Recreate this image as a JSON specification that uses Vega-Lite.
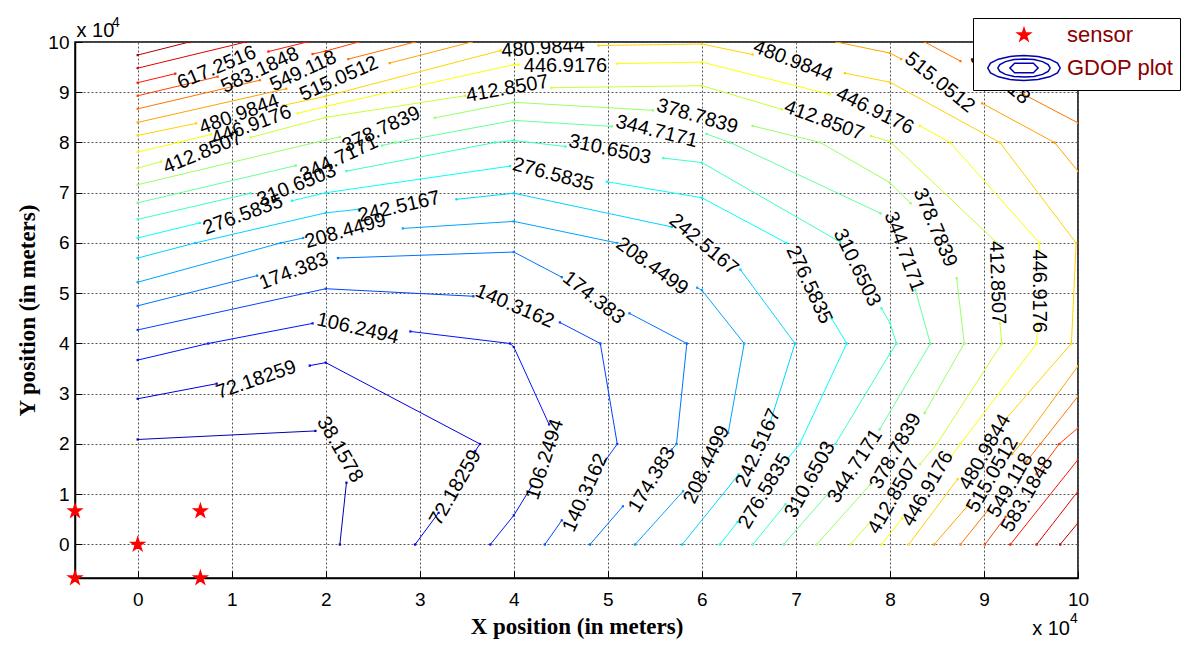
{
"$schema":"https://vega.github.io/schema/vega-lite/v6.json",
"width":1003,"height":536,
"autosize":{"type":"none"},
"padding":{"left":75,"top":42,"right":114,"bottom":72},
"background":"white",
"config":{"view":{"stroke":"black","strokeWidth":1.5},"font":"Liberation Sans"},
"datasets":{
"cl":[
{"k":"38.1578","s":"1a","o":0,"x":0,"y":2.09},{"k":"38.1578","s":"1a","o":1,"x":1.89,"y":2.26},
{"k":"38.1578","s":"1b","o":0,"x":2.22,"y":1.23},{"k":"38.1578","s":"1b","o":1,"x":2.15,"y":0},
{"k":"72.18259","s":"2a","o":0,"x":0,"y":2.9},{"k":"72.18259","s":"2a","o":1,"x":0.84,"y":3.2},
{"k":"72.18259","s":"2b","o":0,"x":1.83,"y":3.56},{"k":"72.18259","s":"2b","o":1,"x":2,"y":3.62},{"k":"72.18259","s":"2b","o":2,"x":3.64,"y":2.0},{"k":"72.18259","s":"2b","o":3,"x":3.59,"y":1.86},
{"k":"72.18259","s":"2c","o":0,"x":3.2,"y":0.63},{"k":"72.18259","s":"2c","o":1,"x":2.95,"y":0},
{"k":"106.2494","s":"3a","o":0,"x":0,"y":3.67},{"k":"106.2494","s":"3a","o":1,"x":0.75,"y":4.0},{"k":"106.2494","s":"3a","o":2,"x":1.86,"y":4.4},
{"k":"106.2494","s":"3b","o":0,"x":2.9,"y":4.24},{"k":"106.2494","s":"3b","o":1,"x":3.96,"y":4.0},{"k":"106.2494","s":"3b","o":2,"x":4,"y":3.93},{"k":"106.2494","s":"3b","o":3,"x":4.375,"y":2.39},
{"k":"106.2494","s":"3c","o":0,"x":4.19,"y":1.16},{"k":"106.2494","s":"3c","o":1,"x":4,"y":0.58},{"k":"106.2494","s":"3c","o":2,"x":3.75,"y":0},
{"k":"140.3162","s":"4a","o":0,"x":0,"y":4.27},{"k":"140.3162","s":"4a","o":1,"x":2,"y":5.09},{"k":"140.3162","s":"4a","o":2,"x":3.57,"y":4.94},
{"k":"140.3162","s":"4b","o":0,"x":4.49,"y":4.42},{"k":"140.3162","s":"4b","o":1,"x":4.92,"y":4.0},{"k":"140.3162","s":"4b","o":2,"x":5.1,"y":2.0},{"k":"140.3162","s":"4b","o":3,"x":4.97,"y":1.66},
{"k":"140.3162","s":"4c","o":0,"x":4.51,"y":0.48},{"k":"140.3162","s":"4c","o":1,"x":4.33,"y":0},
{"k":"174.383","s":"5a","o":0,"x":0,"y":4.75},{"k":"174.383","s":"5a","o":1,"x":1.27,"y":5.35},
{"k":"174.383","s":"5b","o":0,"x":2.13,"y":5.7},{"k":"174.383","s":"5b","o":1,"x":4,"y":5.82},{"k":"174.383","s":"5b","o":2,"x":4.51,"y":5.32},
{"k":"174.383","s":"5c","o":0,"x":5.23,"y":4.6},{"k":"174.383","s":"5c","o":1,"x":5.84,"y":4.0},{"k":"174.383","s":"5c","o":2,"x":5.73,"y":2.0},{"k":"174.383","s":"5c","o":3,"x":5.68,"y":1.89},
{"k":"174.383","s":"5d","o":0,"x":5.16,"y":0.76},{"k":"174.383","s":"5d","o":1,"x":4.81,"y":0},
{"k":"208.4499","s":"6a","o":0,"x":0,"y":5.22},{"k":"208.4499","s":"6a","o":1,"x":1.52,"y":6.0},{"k":"208.4499","s":"6a","o":2,"x":1.76,"y":6.1},
{"k":"208.4499","s":"6b","o":0,"x":2.82,"y":6.29},{"k":"208.4499","s":"6b","o":1,"x":4,"y":6.43},{"k":"208.4499","s":"6b","o":2,"x":5.1,"y":6.0},
{"k":"208.4499","s":"6c","o":0,"x":5.95,"y":5.11},{"k":"208.4499","s":"6c","o":1,"x":6,"y":5.06},{"k":"208.4499","s":"6c","o":2,"x":6.45,"y":4.0},{"k":"208.4499","s":"6c","o":3,"x":6.28,"y":2.22},
{"k":"208.4499","s":"6d","o":0,"x":5.8,"y":1.06},{"k":"208.4499","s":"6d","o":1,"x":5.29,"y":0},
{"k":"242.5167","s":"7a","o":0,"x":0,"y":5.7},{"k":"242.5167","s":"7a","o":1,"x":0.61,"y":6.0},{"k":"242.5167","s":"7a","o":2,"x":2,"y":6.6},{"k":"242.5167","s":"7a","o":3,"x":2.35,"y":6.67},
{"k":"242.5167","s":"7b","o":0,"x":3.39,"y":6.87},{"k":"242.5167","s":"7b","o":1,"x":4,"y":6.99},{"k":"242.5167","s":"7b","o":2,"x":5.68,"y":6.32},
{"k":"242.5167","s":"7c","o":0,"x":6.41,"y":5.47},{"k":"242.5167","s":"7c","o":1,"x":6.99,"y":4.0},{"k":"242.5167","s":"7c","o":2,"x":6.73,"y":2.45},
{"k":"242.5167","s":"7d","o":0,"x":6.39,"y":1.39},{"k":"242.5167","s":"7d","o":1,"x":5.79,"y":0},
{"k":"276.5835","s":"8a","o":0,"x":0,"y":6.1},{"k":"276.5835","s":"8a","o":1,"x":0.66,"y":6.4},
{"k":"276.5835","s":"8b","o":0,"x":1.64,"y":6.84},{"k":"276.5835","s":"8b","o":1,"x":2,"y":7.0},{"k":"276.5835","s":"8b","o":2,"x":3.96,"y":7.53},
{"k":"276.5835","s":"8c","o":0,"x":4.99,"y":7.22},{"k":"276.5835","s":"8c","o":1,"x":6,"y":6.9},{"k":"276.5835","s":"8c","o":2,"x":6.9,"y":6.0},
{"k":"276.5835","s":"8d","o":0,"x":7.38,"y":4.5},{"k":"276.5835","s":"8d","o":1,"x":7.54,"y":4.0},{"k":"276.5835","s":"8d","o":2,"x":7.04,"y":2.0},{"k":"276.5835","s":"8d","o":3,"x":6.91,"y":1.7},
{"k":"276.5835","s":"8e","o":0,"x":6.38,"y":0.45},{"k":"276.5835","s":"8e","o":1,"x":6.19,"y":0},
{"k":"310.6503","s":"9a","o":0,"x":0,"y":6.47},{"k":"310.6503","s":"9a","o":1,"x":1.2,"y":6.99},
{"k":"310.6503","s":"9b","o":0,"x":2.22,"y":7.43},{"k":"310.6503","s":"9b","o":1,"x":3.8,"y":8.0},{"k":"310.6503","s":"9b","o":2,"x":4,"y":8.04},{"k":"310.6503","s":"9b","o":3,"x":4.55,"y":7.92},
{"k":"310.6503","s":"9c","o":0,"x":5.59,"y":7.69},{"k":"310.6503","s":"9c","o":1,"x":6,"y":7.6},{"k":"310.6503","s":"9c","o":2,"x":7.47,"y":6.02},
{"k":"310.6503","s":"9d","o":0,"x":7.91,"y":4.7},{"k":"310.6503","s":"9d","o":1,"x":8,"y":4.41},{"k":"310.6503","s":"9d","o":2,"x":8.07,"y":4.0},{"k":"310.6503","s":"9d","o":3,"x":8,"y":3.8},{"k":"310.6503","s":"9d","o":4,"x":7.42,"y":2.0},
{"k":"310.6503","s":"9e","o":0,"x":6.89,"y":0.8},{"k":"310.6503","s":"9e","o":1,"x":6.54,"y":0},
{"k":"344.7171","s":"10a","o":0,"x":0,"y":6.8},{"k":"344.7171","s":"10a","o":1,"x":1.68,"y":7.54},
{"k":"344.7171","s":"10b","o":0,"x":2.6,"y":7.94},{"k":"344.7171","s":"10b","o":1,"x":2.74,"y":8.0},{"k":"344.7171","s":"10b","o":2,"x":4,"y":8.44},{"k":"344.7171","s":"10b","o":3,"x":5.04,"y":8.32},
{"k":"344.7171","s":"10c","o":0,"x":6.05,"y":8.17},{"k":"344.7171","s":"10c","o":1,"x":6.3,"y":8.0},{"k":"344.7171","s":"10c","o":2,"x":7.9,"y":6.59},
{"k":"344.7171","s":"10d","o":0,"x":8.27,"y":5.07},{"k":"344.7171","s":"10d","o":1,"x":8.43,"y":4.0},{"k":"344.7171","s":"10d","o":2,"x":7.89,"y":2.29},
{"k":"344.7171","s":"10e","o":0,"x":7.35,"y":1.03},{"k":"344.7171","s":"10e","o":1,"x":6.87,"y":0},
{"k":"378.7839","s":"11a","o":0,"x":0,"y":7.16},{"k":"378.7839","s":"11a","o":1,"x":2,"y":8.05},{"k":"378.7839","s":"11a","o":2,"x":2.15,"y":8.11},
{"k":"378.7839","s":"11b","o":0,"x":3.16,"y":8.49},{"k":"378.7839","s":"11b","o":1,"x":4,"y":8.8},{"k":"378.7839","s":"11b","o":2,"x":5.48,"y":8.64},
{"k":"378.7839","s":"11c","o":0,"x":6.54,"y":8.33},{"k":"378.7839","s":"11c","o":1,"x":7.26,"y":8.0},{"k":"378.7839","s":"11c","o":2,"x":8,"y":7.2},{"k":"378.7839","s":"11c","o":3,"x":8.22,"y":6.79},
{"k":"378.7839","s":"11d","o":0,"x":8.71,"y":5.3},{"k":"378.7839","s":"11d","o":1,"x":8.79,"y":4.0},{"k":"378.7839","s":"11d","o":2,"x":8.37,"y":2.62},
{"k":"378.7839","s":"11e","o":0,"x":7.79,"y":1.19},{"k":"378.7839","s":"11e","o":1,"x":7.22,"y":0},
{"k":"412.8507","s":"12a","o":0,"x":0,"y":7.49},{"k":"412.8507","s":"12a","o":1,"x":0.25,"y":7.62},
{"k":"412.8507","s":"12b","o":0,"x":1.2,"y":8.1},{"k":"412.8507","s":"12b","o":1,"x":2,"y":8.5},{"k":"412.8507","s":"12b","o":2,"x":3.48,"y":8.93},
{"k":"412.8507","s":"12c","o":0,"x":4.4,"y":9.09},{"k":"412.8507","s":"12c","o":1,"x":6,"y":9.13},{"k":"412.8507","s":"12c","o":2,"x":6.85,"y":8.66},
{"k":"412.8507","s":"12d","o":0,"x":7.8,"y":8.13},{"k":"412.8507","s":"12d","o":1,"x":8,"y":8.02},{"k":"412.8507","s":"12d","o":2,"x":9.14,"y":6.0},
{"k":"412.8507","s":"12e","o":0,"x":9.17,"y":4.4},{"k":"412.8507","s":"12e","o":1,"x":9.19,"y":4.0},{"k":"412.8507","s":"12e","o":2,"x":8.5,"y":2.0},{"k":"412.8507","s":"12e","o":3,"x":8.32,"y":1.6},
{"k":"412.8507","s":"12f","o":0,"x":7.79,"y":0.45},{"k":"412.8507","s":"12f","o":1,"x":7.58,"y":0},
{"k":"446.9176","s":"13a","o":0,"x":0,"y":7.81},{"k":"446.9176","s":"13a","o":1,"x":0.43,"y":8.0},{"k":"446.9176","s":"13a","o":2,"x":0.78,"y":8.16},
{"k":"446.9176","s":"13b","o":0,"x":1.7,"y":8.58},{"k":"446.9176","s":"13b","o":1,"x":2,"y":8.72},{"k":"446.9176","s":"13b","o":2,"x":4,"y":9.55},{"k":"446.9176","s":"13b","o":3,"x":4.05,"y":9.55},
{"k":"446.9176","s":"13c","o":0,"x":5.1,"y":9.57},{"k":"446.9176","s":"13c","o":1,"x":6,"y":9.6},{"k":"446.9176","s":"13c","o":2,"x":7.36,"y":8.96},
{"k":"446.9176","s":"13d","o":0,"x":8.32,"y":8.33},{"k":"446.9176","s":"13d","o":1,"x":8.64,"y":8.0},{"k":"446.9176","s":"13d","o":2,"x":9.59,"y":6.0},{"k":"446.9176","s":"13d","o":3,"x":9.59,"y":5.85},
{"k":"446.9176","s":"13e","o":0,"x":9.57,"y":4.41},{"k":"446.9176","s":"13e","o":1,"x":9.56,"y":4.0},{"k":"446.9176","s":"13e","o":2,"x":8.75,"y":2.0},{"k":"446.9176","s":"13e","o":3,"x":8.65,"y":1.75},
{"k":"446.9176","s":"13f","o":0,"x":8.13,"y":0.52},{"k":"446.9176","s":"13f","o":1,"x":7.91,"y":0},
{"k":"480.9844","s":"14a","o":0,"x":0,"y":8.14},{"k":"480.9844","s":"14a","o":1,"x":0.62,"y":8.38},
{"k":"480.9844","s":"14b","o":0,"x":1.55,"y":8.74},{"k":"480.9844","s":"14b","o":1,"x":2,"y":8.92},{"k":"480.9844","s":"14b","o":2,"x":3.86,"y":9.83},
{"k":"480.9844","s":"14c","o":0,"x":4.9,"y":9.93},{"k":"480.9844","s":"14c","o":1,"x":6,"y":9.96},{"k":"480.9844","s":"14c","o":2,"x":6.54,"y":9.75},
{"k":"480.9844","s":"14d","o":0,"x":7.52,"y":9.38},{"k":"480.9844","s":"14d","o":1,"x":8,"y":9.2},{"k":"480.9844","s":"14d","o":2,"x":9.17,"y":8.0},{"k":"480.9844","s":"14d","o":3,"x":9.98,"y":6.0},{"k":"480.9844","s":"14d","o":4,"x":9.93,"y":4.0},{"k":"480.9844","s":"14d","o":5,"x":9.21,"y":2.45},
{"k":"480.9844","s":"14e","o":0,"x":8.72,"y":1.3},{"k":"480.9844","s":"14e","o":1,"x":8.2,"y":0},
{"k":"515.0512","s":"15a","o":0,"x":0,"y":8.4},{"k":"515.0512","s":"15a","o":1,"x":1.58,"y":9.07},
{"k":"515.0512","s":"15b","o":0,"x":2.68,"y":9.58},{"k":"515.0512","s":"15b","o":1,"x":3.55,"y":10},
{"k":"515.0512","s":"15c","o":0,"x":7.43,"y":10},{"k":"515.0512","s":"15c","o":1,"x":8,"y":9.78},{"k":"515.0512","s":"15c","o":2,"x":8.12,"y":9.66},
{"k":"515.0512","s":"15d","o":0,"x":8.98,"y":8.78},{"k":"515.0512","s":"15d","o":1,"x":9.75,"y":8.0},{"k":"515.0512","s":"15d","o":2,"x":10,"y":7.43},
{"k":"515.0512","s":"15e","o":0,"x":10,"y":3.55},{"k":"515.0512","s":"15e","o":1,"x":9.39,"y":2.0},{"k":"515.0512","s":"15e","o":2,"x":9.3,"y":1.8},
{"k":"515.0512","s":"15f","o":0,"x":8.84,"y":0.8},{"k":"515.0512","s":"15f","o":1,"x":8.47,"y":0},
{"k":"549.118","s":"16a","o":0,"x":0,"y":8.67},{"k":"549.118","s":"16a","o":1,"x":1.3,"y":9.24},
{"k":"549.118","s":"16b","o":0,"x":2.24,"y":9.66},{"k":"549.118","s":"16b","o":1,"x":2.95,"y":10},
{"k":"549.118","s":"16c","o":0,"x":8.37,"y":10},{"k":"549.118","s":"16c","o":1,"x":8.75,"y":9.62},
{"k":"549.118","s":"16d","o":0,"x":9.42,"y":8.96},{"k":"549.118","s":"16d","o":1,"x":10,"y":8.39},
{"k":"549.118","s":"16e","o":0,"x":10,"y":2.95},{"k":"549.118","s":"16e","o":1,"x":9.6,"y":2.0},{"k":"549.118","s":"16e","o":2,"x":9.45,"y":1.65},
{"k":"549.118","s":"16f","o":0,"x":9.05,"y":0.7},{"k":"549.118","s":"16f","o":1,"x":8.75,"y":0},
{"k":"583.1848","s":"17a","o":0,"x":0,"y":8.93},{"k":"583.1848","s":"17a","o":1,"x":0.85,"y":9.31},
{"k":"583.1848","s":"17b","o":0,"x":1.86,"y":9.76},{"k":"583.1848","s":"17b","o":1,"x":2,"y":9.82},{"k":"583.1848","s":"17b","o":2,"x":2.35,"y":10},
{"k":"583.1848","s":"17c","o":0,"x":9.3,"y":10},{"k":"583.1848","s":"17c","o":1,"x":10,"y":9.25},
{"k":"583.1848","s":"17d","o":0,"x":10,"y":2.32},{"k":"583.1848","s":"17d","o":1,"x":9.8,"y":2.0},{"k":"583.1848","s":"17d","o":2,"x":9.56,"y":1.4},
{"k":"583.1848","s":"17e","o":0,"x":9.23,"y":0.55},{"k":"583.1848","s":"17e","o":1,"x":9.01,"y":0},
{"k":"617.2516","s":"18a","o":0,"x":0,"y":9.19},{"k":"617.2516","s":"18a","o":1,"x":0.4,"y":9.37},
{"k":"617.2516","s":"18b","o":0,"x":1.39,"y":9.81},{"k":"617.2516","s":"18b","o":1,"x":1.8,"y":10},
{"k":"617.2516","s":"18c","o":0,"x":10,"y":1.69},{"k":"617.2516","s":"18c","o":1,"x":9.28,"y":0},
{"k":"651.3184","s":"19a","o":0,"x":0,"y":9.48},{"k":"651.3184","s":"19a","o":1,"x":1.15,"y":10},
{"k":"651.3184","s":"19b","o":0,"x":10,"y":1.06},{"k":"651.3184","s":"19b","o":1,"x":9.56,"y":0},
{"k":"685.3852","s":"20a","o":0,"x":0,"y":9.74},{"k":"685.3852","s":"20a","o":1,"x":0.55,"y":10},
{"k":"685.3852","s":"20b","o":0,"x":10,"y":0.43},{"k":"685.3852","s":"20b","o":1,"x":9.81,"y":0}
],
"lab":[
{"t":"38.1578","x":2.15,"y":1.89,"a":60},
{"t":"72.18259","x":1.26,"y":3.28,"a":341},{"t":"72.18259","x":3.38,"y":1.13,"a":300},
{"t":"106.2494","x":2.34,"y":4.3,"a":13},{"t":"106.2494","x":4.33,"y":1.69,"a":288},
{"t":"140.3162","x":4.01,"y":4.74,"a":23},{"t":"140.3162","x":4.76,"y":1.03,"a":294},
{"t":"174.383","x":1.66,"y":5.44,"a":339},{"t":"174.383","x":4.85,"y":4.91,"a":38},{"t":"174.383","x":5.47,"y":1.29,"a":301},
{"t":"208.4499","x":2.21,"y":6.24,"a":344},{"t":"208.4499","x":5.47,"y":5.54,"a":36},{"t":"208.4499","x":6.05,"y":1.59,"a":295},
{"t":"242.5167","x":2.78,"y":6.72,"a":347},{"t":"242.5167","x":6.02,"y":5.97,"a":40},{"t":"242.5167","x":6.6,"y":1.92,"a":294},
{"t":"276.5835","x":1.12,"y":6.56,"a":340},{"t":"276.5835","x":4.42,"y":7.36,"a":15},{"t":"276.5835","x":7.14,"y":5.17,"a":65},{"t":"276.5835","x":6.67,"y":1.06,"a":301},
{"t":"310.6503","x":1.69,"y":7.15,"a":338},{"t":"310.6503","x":5.02,"y":7.86,"a":12},{"t":"310.6503","x":7.65,"y":5.51,"a":64},{"t":"310.6503","x":7.15,"y":1.29,"a":299},
{"t":"344.7171","x":2.14,"y":7.68,"a":335},{"t":"344.7171","x":5.52,"y":8.22,"a":14},{"t":"344.7171","x":8.15,"y":5.83,"a":70},{"t":"344.7171","x":7.63,"y":1.56,"a":303},
{"t":"378.7839","x":2.59,"y":8.26,"a":335},{"t":"378.7839","x":5.95,"y":8.52,"a":16},{"t":"378.7839","x":8.48,"y":6.31,"a":67},{"t":"378.7839","x":8.06,"y":1.86,"a":300},
{"t":"412.8507","x":0.69,"y":7.8,"a":338},{"t":"412.8507","x":3.93,"y":9.07,"a":350},{"t":"412.8507","x":7.3,"y":8.44,"a":20},{"t":"412.8507","x":9.14,"y":5.21,"a":88},{"t":"412.8507","x":8.04,"y":0.96,"a":300},
{"t":"446.9176","x":1.21,"y":8.34,"a":340},{"t":"446.9176","x":4.55,"y":9.53,"a":0},{"t":"446.9176","x":7.84,"y":8.63,"a":26},{"t":"446.9176","x":9.58,"y":5.04,"a":90},{"t":"446.9176","x":8.4,"y":1.11,"a":300},
{"t":"480.9844","x":1.08,"y":8.56,"a":340},{"t":"480.9844","x":4.31,"y":9.88,"a":356},{"t":"480.9844","x":6.97,"y":9.62,"a":21},{"t":"480.9844","x":9.01,"y":1.84,"a":300},
{"t":"515.0512","x":2.14,"y":9.27,"a":336},{"t":"515.0512","x":8.53,"y":9.19,"a":39},{"t":"515.0512","x":9.09,"y":1.39,"a":300},
{"t":"549.118","x":1.76,"y":9.42,"a":335},{"t":"549.118","x":9.17,"y":9.29,"a":40},{"t":"549.118","x":9.28,"y":1.18,"a":300},
{"t":"583.1848","x":1.3,"y":9.44,"a":335},{"t":"583.1848","x":9.46,"y":1.0,"a":300},
{"t":"617.2516","x":0.84,"y":9.49,"a":337}
],
"sen":[
{"x":0,"y":0,"kind":"sensor"},{"x":-0.6667,"y":-0.6667,"kind":"sensor"},{"x":-0.6667,"y":0.6667,"kind":"sensor"},{"x":0.6667,"y":0.6667,"kind":"sensor"},{"x":0.6667,"y":-0.6667,"kind":"sensor"}
],
"tla":[{"t":"x 10","x":-0.6667,"y":10}],
"tlb":[{"t":"4","x":-0.6667,"y":10}],
"bra":[{"t":"x 10","x":10,"y":-0.6667}],
"brb":[{"t":"4","x":10,"y":-0.6667}]
},
"layer":[
{"data":{"name":"cl"},
 "mark":{"type":"line","strokeWidth":1,"clip":true},
 "encoding":{
  "x":{"field":"x","type":"quantitative","scale":{"domain":[-0.6667,10],"nice":false,"zero":false},
   "axis":{"values":[0,1,2,3,4,5,6,7,8,9,10],"format":"d","title":"X position (in meters)","titleFont":"Liberation Serif","titleFontWeight":"bold","titleFontSize":23,"titleColor":"black","titlePadding":6,
    "labelFont":"Liberation Sans","labelFontSize":19,"labelColor":"black","labelPadding":19,"ticks":true,"tickSize":-7,"tickColor":"black","tickWidth":1,"labelFlush":false,
    "grid":true,"gridDash":[2,2],"gridColor":"#555555","gridOpacity":1,"domainColor":"black","domainWidth":1.5}},
  "y":{"field":"y","type":"quantitative","scale":{"domain":[-0.6667,10],"nice":false,"zero":false},
   "axis":{"values":[0,1,2,3,4,5,6,7,8,9,10],"format":"d","title":"Y position (in meters)","titleFont":"Liberation Serif","titleFontWeight":"bold","titleFontSize":23,"titleColor":"black","titlePadding":8,
    "labelFont":"Liberation Sans","labelFontSize":19,"labelColor":"black","labelPadding":13,"ticks":true,"tickSize":-7,"tickColor":"black","tickWidth":1,"labelFlush":false,
    "grid":true,"gridDash":[2,2],"gridColor":"#555555","gridOpacity":1,"domainColor":"black","domainWidth":1.5}},
  "color":{"field":"k","type":"nominal","legend":null,"scale":{"domain":["38.1578","72.18259","106.2494","140.3162","174.383","208.4499","242.5167","276.5835","310.6503","344.7171","378.7839","412.8507","446.9176","480.9844","515.0512","549.118","583.1848","617.2516","651.3184","685.3852"],
   "range":["#0000B0","#0000E0","#0012FF","#0042FF","#0073FF","#00A3FF","#00D4FF","#05FFFA","#36FFC9","#66FF99","#99FF66","#C9FF36","#FAFF05","#FFD400","#FFA300","#FF7300","#FF4200","#FF1200","#E00000","#B00000"]}},
  "detail":{"field":"s","type":"nominal"},
  "order":{"field":"o","type":"quantitative"}
 }},
{"data":{"name":"cl"},
 "mark":{"type":"square","size":5,"opacity":1,"clip":true},
 "encoding":{
  "x":{"field":"x","type":"quantitative","scale":{"domain":[-0.6667,10],"nice":false,"zero":false}},
  "y":{"field":"y","type":"quantitative","scale":{"domain":[-0.6667,10],"nice":false,"zero":false}},
  "color":{"field":"k","type":"nominal","legend":null}
 }},
{"data":{"name":"lab"},
 "mark":{"type":"text","font":"Liberation Sans","fontSize":20,"color":"black","align":"center","baseline":"middle","clip":true},
 "encoding":{
  "x":{"field":"x","type":"quantitative","scale":{"domain":[-0.6667,10],"nice":false,"zero":false}},
  "y":{"field":"y","type":"quantitative","scale":{"domain":[-0.6667,10],"nice":false,"zero":false}},
  "text":{"field":"t","type":"nominal"},
  "angle":{"field":"a","type":"quantitative","scale":null}
 }},
{"data":{"name":"sen"},
 "mark":{"type":"point","size":180,"strokeWidth":1.5,"opacity":1},
 "encoding":{
  "x":{"field":"x","type":"quantitative","scale":{"domain":[-0.6667,10],"nice":false,"zero":false}},
  "y":{"field":"y","type":"quantitative","scale":{"domain":[-0.6667,10],"nice":false,"zero":false}},
  "shape":{"field":"kind","type":"nominal","scale":{"domain":["sensor","GDOP plot"],"range":["M0,-1L0.2245,-0.309L0.951,-0.309L0.363,0.118L0.588,0.809L0,0.382L-0.588,0.809L-0.363,0.118L-0.951,-0.309L-0.2245,-0.309Z","M 5.4 0 L 4.99 0.72 L 3.82 1.32 L 2.07 1.73 L 0 1.87 L -2.07 1.73 L -3.82 1.32 L -4.99 0.72 L -5.4 0 L -4.99 -0.72 L -3.82 -1.32 L -2.07 -1.73 L 0 -1.87 L 2.07 -1.73 L 3.82 -1.32 L 4.99 -0.72 Z M 3.9 0 L 3.6 0.52 L 2.76 0.95 L 1.49 1.25 L 0 1.35 L -1.49 1.25 L -2.76 0.95 L -3.6 0.52 L -3.9 0 L -3.6 -0.52 L -2.76 -0.95 L -1.49 -1.25 L 0 -1.35 L 1.49 -1.25 L 2.76 -0.95 L 3.6 -0.52 Z M -2.1 0 L -1.4 -0.7 L 1.4 -0.7 L 2.1 0 L 1.4 0.7 L -1.4 0.7 Z"]},
   "legend":{"title":null,"orient":"none","legendX":898,"legendY":-24,"fillColor":"white","strokeColor":"black","padding":6,"labelFont":"Liberation Sans","labelFontSize":22,"labelColor":"#8B0000","symbolSize":180,"rowPadding":6,"symbolOffset":34,"labelOffset":32,"symbolStrokeWidth":1.5}},
  "fill":{"field":"kind","type":"nominal","scale":{"domain":["sensor","GDOP plot"],"range":["red","white"]}},
  "stroke":{"field":"kind","type":"nominal","scale":{"domain":["sensor","GDOP plot"],"range":["red","#0000B0"]}}
 }},
{"data":{"name":"tla"},
 "mark":{"type":"text","font":"Liberation Sans","fontSize":20,"color":"black","align":"left","baseline":"alphabetic","dx":1.5,"dy":-5.5},
 "encoding":{"x":{"field":"x","type":"quantitative","scale":{"domain":[-0.6667,10],"nice":false,"zero":false}},"y":{"field":"y","type":"quantitative","scale":{"domain":[-0.6667,10],"nice":false,"zero":false}},"text":{"field":"t","type":"nominal"}}},
{"data":{"name":"tlb"},
 "mark":{"type":"text","font":"Liberation Sans","fontSize":14,"color":"black","align":"left","baseline":"alphabetic","dx":37,"dy":-15.5},
 "encoding":{"x":{"field":"x","type":"quantitative","scale":{"domain":[-0.6667,10],"nice":false,"zero":false}},"y":{"field":"y","type":"quantitative","scale":{"domain":[-0.6667,10],"nice":false,"zero":false}},"text":{"field":"t","type":"nominal"}}},
{"data":{"name":"bra"},
 "mark":{"type":"text","font":"Liberation Sans","fontSize":20,"color":"black","align":"right","baseline":"alphabetic","dx":-8,"dy":57},
 "encoding":{"x":{"field":"x","type":"quantitative","scale":{"domain":[-0.6667,10],"nice":false,"zero":false}},"y":{"field":"y","type":"quantitative","scale":{"domain":[-0.6667,10],"nice":false,"zero":false}},"text":{"field":"t","type":"nominal"}}},
{"data":{"name":"brb"},
 "mark":{"type":"text","font":"Liberation Sans","fontSize":14,"color":"black","align":"left","baseline":"alphabetic","dx":-8,"dy":45},
 "encoding":{"x":{"field":"x","type":"quantitative","scale":{"domain":[-0.6667,10],"nice":false,"zero":false}},"y":{"field":"y","type":"quantitative","scale":{"domain":[-0.6667,10],"nice":false,"zero":false}},"text":{"field":"t","type":"nominal"}}}
]
}
